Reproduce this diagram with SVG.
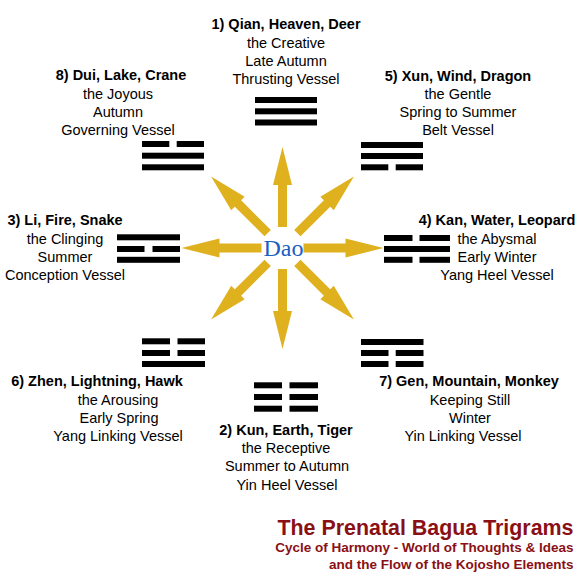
<svg xmlns="http://www.w3.org/2000/svg" xmlns:xlink="http://www.w3.org/1999/xlink" width="580" height="580" viewBox="0 0 580 580">
<style>
.h{font-family:"Liberation Sans",Arial,sans-serif;font-size:14.5px;font-weight:bold;fill:#000;text-anchor:middle}
.t{font-family:"Liberation Sans",Arial,sans-serif;font-size:14.5px;fill:#000;text-anchor:middle}
.bar{fill:#000}
.arrow{fill:#E0B11E}
.dao{font-family:"Liberation Serif","Times New Roman",serif;font-size:24px;fill:#1b5fc0;text-anchor:middle}
.title{font-family:"Liberation Sans",Arial,sans-serif;font-weight:bold;fill:#8a1015;text-anchor:end}
</style>
<defs>
<polygon id="arr" points="-4.5,-21 4.5,-21 4.5,-63 9.5,-63 0,-101 -9.5,-63 -4.5,-63"/>
</defs>
<rect width="580" height="580" fill="#fff"/>
<g id="connectors" class="arrow" transform="translate(282.5,248)">
<use xlink:href="#arr" transform="rotate(0)"/>
<use xlink:href="#arr" transform="rotate(45)"/>
<use xlink:href="#arr" transform="rotate(90)"/>
<use xlink:href="#arr" transform="rotate(135)"/>
<use xlink:href="#arr" transform="rotate(180)"/>
<use xlink:href="#arr" transform="rotate(225)"/>
<use xlink:href="#arr" transform="rotate(270)"/>
<use xlink:href="#arr" transform="rotate(315)"/>
</g>
<g id="dao"><text class="dao" x="283.5" y="256">Dao</text></g>
<g id="qian">
<text class="h" x="286" y="29">1) Qian, Heaven, Deer</text>
<text class="t" x="286" y="48">the Creative</text>
<text class="t" x="286" y="66">Late Autumn</text>
<text class="t" x="286" y="84">Thrusting Vessel</text>
<g class="bar"><rect x="255" y="97" width="62" height="6"/><rect x="255" y="108.3" width="62" height="6"/><rect x="255" y="119.5" width="62" height="6"/></g>
</g>
<g id="dui">
<text class="h" x="121" y="80">8) Dui, Lake, Crane</text>
<text class="t" x="118" y="99">the Joyous</text>
<text class="t" x="118" y="117">Autumn</text>
<text class="t" x="118" y="135">Governing Vessel</text>
<g class="bar"><rect x="142" y="141" width="27.3" height="6"/><rect x="176.7" y="141" width="27.3" height="6"/><rect x="142" y="152.7" width="62" height="6"/><rect x="142" y="164.3" width="62" height="6"/></g>
</g>
<g id="xun">
<text class="h" x="458" y="81">5) Xun, Wind, Dragon</text>
<text class="t" x="458" y="99">the Gentle</text>
<text class="t" x="458" y="117">Spring to Summer</text>
<text class="t" x="458" y="135">Belt Vessel</text>
<g class="bar"><rect x="361" y="142" width="62" height="6"/><rect x="361" y="153" width="62" height="6"/><rect x="361" y="164.3" width="27.3" height="6"/><rect x="395.7" y="164.3" width="27.3" height="6"/></g>
</g>
<g id="li">
<text class="h" x="65" y="225">3) Li, Fire, Snake</text>
<text class="t" x="65" y="244">the Clinging</text>
<text class="t" x="65" y="262">Summer</text>
<text class="t" x="65" y="280">Conception Vessel</text>
<g class="bar"><rect x="117" y="234.3" width="63" height="6"/><rect x="117" y="246" width="27.5" height="6"/><rect x="152.5" y="246" width="27.5" height="6"/><rect x="117" y="256.8" width="63" height="6"/></g>
</g>
<g id="kan">
<text class="h" x="497" y="225">4) Kan, Water, Leopard</text>
<text class="t" x="497" y="244">the Abysmal</text>
<text class="t" x="497" y="262">Early Winter</text>
<text class="t" x="497" y="280">Yang Heel Vessel</text>
<g class="bar"><rect x="384" y="235" width="28.5" height="6"/><rect x="419.5" y="235" width="30.5" height="6"/><rect x="384" y="246" width="66" height="6"/><rect x="384" y="256.8" width="28.5" height="6"/><rect x="419.5" y="256.8" width="30.5" height="6"/></g>
</g>
<g id="zhen">
<text class="h" x="97" y="386">6) Zhen, Lightning, Hawk</text>
<text class="t" x="118" y="405">the Arousing</text>
<text class="t" x="119" y="423">Early Spring</text>
<text class="t" x="118" y="441">Yang Linking Vessel</text>
<g class="bar"><rect x="142" y="338.3" width="28" height="6"/><rect x="177.5" y="338.3" width="27.5" height="6"/><rect x="142" y="350" width="28" height="6"/><rect x="177.5" y="350" width="27.5" height="6"/><rect x="142" y="361" width="63" height="6"/></g>
</g>
<g id="gen">
<text class="h" x="469" y="386">7) Gen, Mountain, Monkey</text>
<text class="t" x="470" y="405">Keeping Still</text>
<text class="t" x="470" y="423">Winter</text>
<text class="t" x="463" y="441">Yin Linking Vessel</text>
<g class="bar"><rect x="361" y="339" width="62.5" height="6"/><rect x="361" y="350" width="27.5" height="6"/><rect x="395.7" y="350" width="27.8" height="6"/><rect x="361" y="361" width="27.5" height="6"/><rect x="395.7" y="361" width="27.8" height="6"/></g>
</g>
<g id="kun">
<text class="h" x="286" y="435">2) Kun, Earth, Tiger</text>
<text class="t" x="286" y="453">the Receptive</text>
<text class="t" x="287" y="471">Summer to Autumn</text>
<text class="t" x="287" y="490">Yin Heel Vessel</text>
<g class="bar"><rect x="254" y="382.3" width="28" height="6"/><rect x="289.5" y="382.3" width="28.5" height="6"/><rect x="254" y="394" width="28" height="6"/><rect x="289.5" y="394" width="28.5" height="6"/><rect x="254" y="405.7" width="28" height="6"/><rect x="289.5" y="405.7" width="28.5" height="6"/></g>
</g>
<g id="title">
<text class="title" x="573.5" y="535" font-size="21.4">The Prenatal Bagua Trigrams</text>
<text class="title" x="573.5" y="551.5" font-size="13.5">Cycle of Harmony - World of Thoughts &amp; Ideas</text>
<text class="title" x="573.5" y="569" font-size="13.5">and the Flow of the Kojosho Elements</text>
</g>
</svg>
